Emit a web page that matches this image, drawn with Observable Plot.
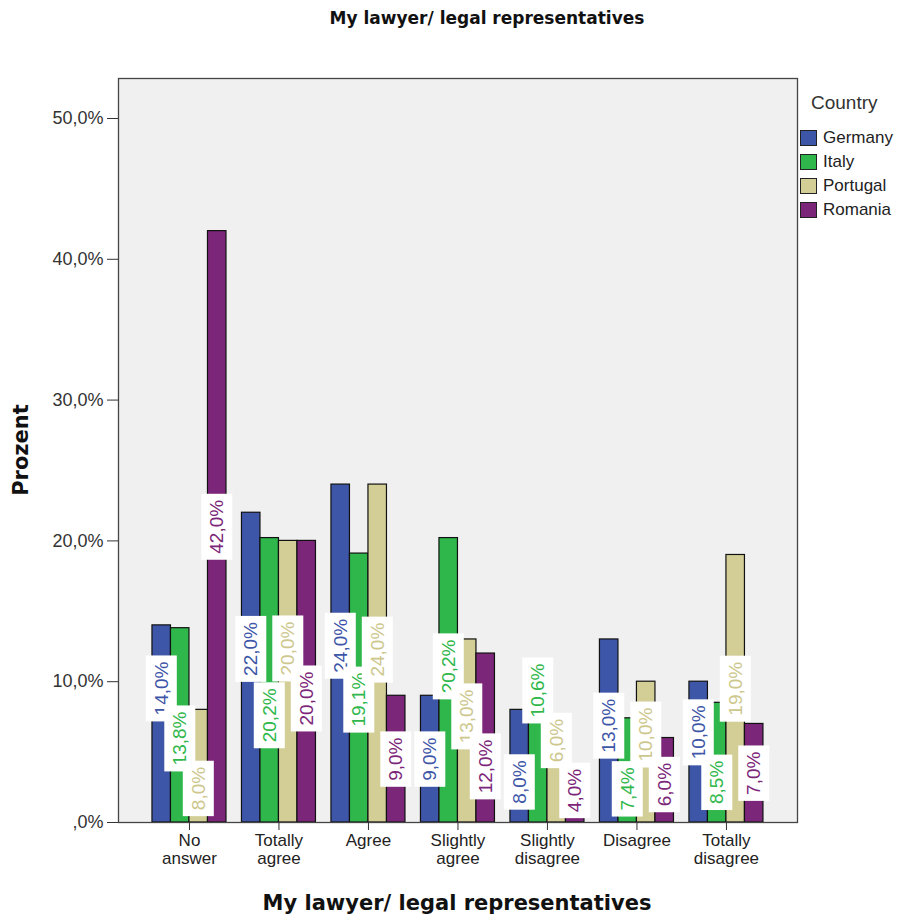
<!DOCTYPE html>
<html>
<head>
<meta charset="utf-8">
<script src="https://cdn.jsdelivr.net/npm/d3@7"></script>
<script src="https://cdn.jsdelivr.net/npm/@observablehq/plot@0.6"></script>
<style>
  html, body { margin: 0; padding: 0; background: #fff; }
  #wrap { position: relative; width: 900px; height: 922px; overflow: hidden; }
  #chart { position: absolute; left: 0; top: 0; }
  .ttl { position: absolute; font-family: "DejaVu Sans", sans-serif; font-weight: bold; color: #111; white-space: nowrap; }
  #title { left: 487px; top: 8px; transform: translateX(-50%); font-size: 17px; }
  #xtitle { left: 457px; top: 891px; transform: translateX(-50%); font-size: 21px; }
  #ytitle { left: 21px; top: 450px; transform: translate(-50%, -50%) rotate(-90deg); font-size: 21px; }
  #legend { position: absolute; left: 800px; top: 92px; font-family: "Liberation Sans", Arial, sans-serif; color: #222; }
  #legend .lt { font-size: 19px; margin-left: 11px; height: 34px; color: #333; }
  #legend .row { display: flex; align-items: center; height: 24px; font-size: 17px; }
  #legend .sw { width: 15px; height: 14px; border: 1px solid #222; margin-right: 6px; }
</style>
</head>
<body>
<div id="wrap">
  <div id="chart"></div>
  <div id="title" class="ttl">My lawyer/ legal representatives</div>
  <div id="xtitle" class="ttl">My lawyer/ legal representatives</div>
  <div id="ytitle" class="ttl">Prozent</div>
  <div id="legend"></div>
</div>
<script>
// ---- data ----
const categories = ["No answer", "Totally agree", "Agree", "Slightly agree", "Slightly disagree", "Disagree", "Totally disagree"];
const tickLabels = ["No\nanswer", "Totally\nagree", "Agree", "Slightly\nagree", "Slightly\ndisagree", "Disagree", "Totally\ndisagree"];
const countries = ["Germany", "Italy", "Portugal", "Romania"];
const germany  = [14.0, 22.0, 24.0,  9.0,  8.0, 13.0, 10.0];
const italy    = [13.8, 20.2, 19.1, 20.2, 10.6,  7.4,  8.5];
const portugal = [ 8.0, 20.0, 24.0, 13.0,  6.0, 10.0, 19.0];
const romania  = [42.0, 20.0,  9.0, 12.0,  4.0,  6.0,  7.0];
const yTicks = [0, 10, 20, 30, 40, 50];
const colors = ["#3e56a8", "#2fb74b", "#d3ce96", "#7b2679"];
const labelColors = ["#3e56a8", "#2fb74b", "#cdc78d", "#7b2679"];

// ---- layout config ----
const W = 900, H = 922;
const mL = 118, mR = 103, mT = 78, mB = 100;
const yMax = 52.84;
const xDomain = [-0.793, 6.794];
const groupHalf = 0.4135;
const barW = (2 * groupHalf) / countries.length;

const series = [germany, italy, portugal, romania];
const fmt = v => v.toFixed(1).replace(".", ",") + "%";

// label placement (simple collision relaxation between neighbouring labels)
const pxPerUnit = (H - mT - mB) / yMax;
const minGap = 50 / pxPerUnit;
const minY = 32 / pxPerUnit;
function placeLabels(vals) {
  const y = vals.map(v => v / 2);
  for (let it = 0; it < 200; it++) {
    for (let i = 0; i < y.length - 1; i++) {
      const d = y[i + 1] - y[i];
      if (Math.abs(d) < minGap) {
        const push = (minGap - Math.abs(d)) / 2;
        const s = d > 0 ? 1 : d < 0 ? -1 : (vals[i] >= vals[i + 1] ? -1 : 1);
        y[i] -= s * push;
        y[i + 1] += s * push;
      }
    }
    for (let i = 0; i < y.length; i++) if (y[i] < minY) y[i] = minY;
  }
  return y;
}

const rows = [];
const labels = [];
categories.forEach((cat, ci) => {
  const vals = series.map(s => s[ci]);
  const ly = placeLabels(vals);
  countries.forEach((c, k) => {
    const x1 = ci - groupHalf + k * barW;
    rows.push({cat, country: c, value: vals[k], x1, x2: x1 + barW});
    labels.push({country: c, value: vals[k], xc: x1 + barW / 2, ly: ly[k], color: labelColors[k]});
  });
});

const chart = Plot.plot({
  width: W, height: H,
  marginLeft: mL, marginRight: mR, marginTop: mT, marginBottom: mB,
  style: {fontFamily: "'Liberation Sans', Arial, sans-serif", background: "transparent", color: "#222"},
  x: {domain: xDomain},
  y: {domain: [0, yMax]},
  color: {domain: countries, range: colors},
  marks: [
    Plot.frame({fill: "#f0f0f0", stroke: null}),
    Plot.rectY(rows, {x1: "x1", x2: "x2", y: "value", fill: "country", stroke: "#111", strokeWidth: 1.2}),
    Plot.text(labels, {x: "xc", y: "ly", text: d => fmt(d.value), fill: d => d.color, rotate: -90,
      fontSize: 19, className: "barlabels"}),
    Plot.frame({stroke: "#444", strokeWidth: 1.3}),
    Plot.axisY(yTicks, {tickFormat: d => d === 0 ? ",0%" : fmt(d), tickSize: 11, tickPadding: 4,
      fontSize: 18, stroke: "#333", fill: "#333", label: null}),
    Plot.axisX(d3.range(categories.length), {tickFormat: i => tickLabels[i], tickSize: 8, tickPadding: 3,
      fontSize: 17, lineHeight: 1.05, stroke: "#333", fill: "#222", label: null})
  ]
});
document.getElementById("chart").appendChild(chart);

// white boxes behind value labels
const svgNS = "http://www.w3.org/2000/svg";
chart.querySelectorAll("g.barlabels text").forEach(t => {
  const b = t.getBBox();
  const r = document.createElementNS(svgNS, "rect");
  r.setAttribute("x", b.x - 6);
  r.setAttribute("y", b.y - 5);
  r.setAttribute("width", b.width + 12);
  r.setAttribute("height", b.height + 10);
  r.setAttribute("fill", "#fff");
  r.setAttribute("stroke", "none");
  const tr = t.getAttribute("transform");
  if (tr) r.setAttribute("transform", tr);
  t.parentNode.insertBefore(r, t);
});

// legend
const lg = document.getElementById("legend");
const lt = document.createElement("div");
lt.className = "lt"; lt.textContent = "Country";
lg.appendChild(lt);
countries.forEach((c, i) => {
  const row = document.createElement("div"); row.className = "row";
  const sw = document.createElement("div"); sw.className = "sw"; sw.style.background = colors[i];
  const tx = document.createElement("span"); tx.textContent = c;
  row.appendChild(sw); row.appendChild(tx); lg.appendChild(row);
});
</script>
</body>
</html>
